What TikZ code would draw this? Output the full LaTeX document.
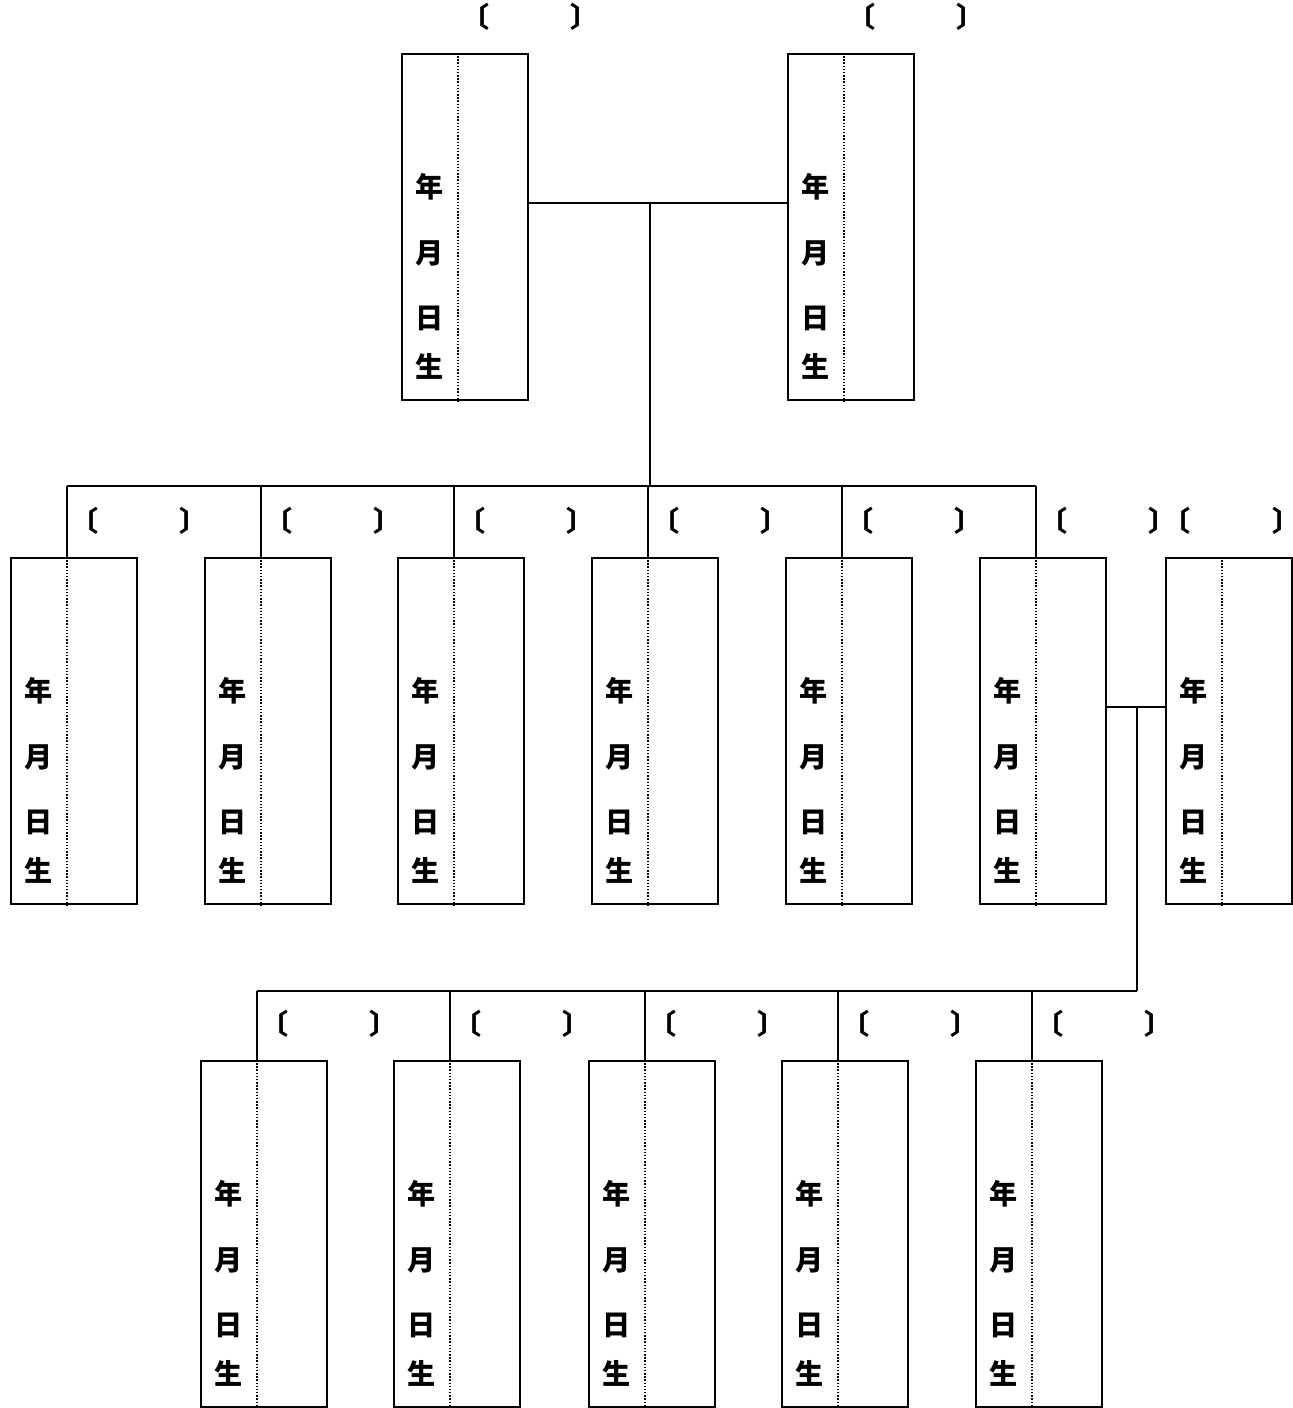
\documentclass[tikz,border=0pt]{standalone}
\usepackage{fontspec}
\newfontfamily\jpfont{Noto Sans CJK JP}
\usetikzlibrary{calc}
\tikzstyle{personbox}=[draw, rectangle, line width=1.2pt, inner sep=0pt, minimum width=2.52cm, minimum height=6.92cm, anchor=north west]
\tikzstyle{namesep}=[line width=1.2pt, dash pattern=on 0.8pt off 1pt]
\tikzstyle{link}=[line width=1.2pt]
\tikzstyle{kanji}=[font=\jpfont\bfseries\fontsize{16}{19}\selectfont, inner sep=0pt]
\newcommand{\sepX}{57}
% name, left, top, left bracket, right bracket
\newcommand{\person}[5]{
\node[personbox] (#1) at (#2,#3) {};
\coordinate (#1t) at ($(#1.north west)+(\sepX,0)$);
\draw[namesep] (#1t) -- ($(#1.south west)+(\sepX,0)$);
\node[kanji] (#1y) at ($(#1.north west)+(29,134)$) {年};
\node[kanji] (#1m) at ($(#1.north west)+(29,200)$) {月};
\node[kanji] (#1d) at ($(#1.north west)+(29,265)$) {日};
\node[kanji] (#1b) at ($(#1.north west)+(29,313)$) {生};
\node[kanji] (#1l) at ($(#1.north west)+(#4,-36)$) {〔};
\node[kanji] (#1r) at ($(#1.north west)+(#5,-36)$) {〕};
}

\begin{document}
\begin{tikzpicture}[x=0.02cm, y=-0.02cm]
\useasboundingbox (0,0) rectangle (1292,1408);
% parents
\person{p1}{401}{53}{75}{184}
\person{p2}{787}{53}{75}{184}
% children
\foreach \i/\x in {1/10,2/204,3/397,4/591,5/785,6/979} {
	\person{c\i}{\x}{557}{75}{184}
}
\person{s6}{1165}{557}{12}{122}
% grandchildren
\foreach \i/\x in {1/200,2/393,3/588,4/781,5/975} {
	\person{g\i}{\x}{1060}{75}{184}
}
\path (c4t) ++(2,-354) coordinate (m1);
\path (c4t) ++(2,-71) coordinate (bus1);
\draw[link] (p1.east |- m1) -- (p2.west |- m1);
\draw[link] (m1) -- (bus1);
\draw[link] (c1t |- bus1) -- (c6t |- bus1);
\foreach \i in {1,...,6} {
	\draw[link] (c\i t |- bus1) -- (c\i t);
}
\path (c6.east) ++(30,-24) coordinate (m2);
\path (m2) ++(0,284) coordinate (bus2);
\draw[link] (c6.east |- m2) -- (s6.west |- m2);
\draw[link] (m2) -- (bus2);
\draw[link] (g1t |- bus2) -- (bus2);
\foreach \i in {1,...,5} {
	\draw[link] (g\i t |- bus2) -- (g\i t);
}
\end{tikzpicture}
\end{document}
